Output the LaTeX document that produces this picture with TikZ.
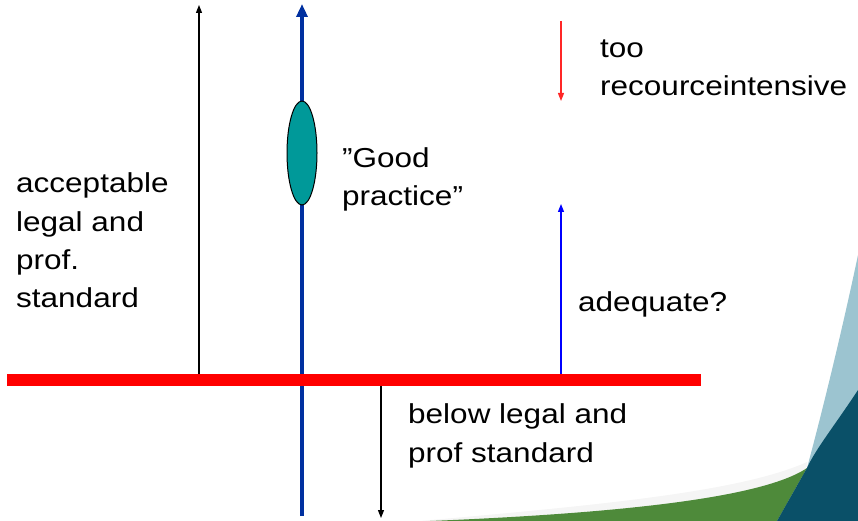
\documentclass[tikz,border=0pt]{standalone}
\usepackage{fontspec}
\setmainfont{Liberation Sans}[FakeStretch=1.15]
\usetikzlibrary{arrows.meta,shapes.geometric}
\definecolor{barRed}{RGB}{255,0,0}
\definecolor{axisBlue}{RGB}{0,48,160}
\definecolor{goodTeal}{RGB}{0,153,153}
\definecolor{swooshGreen}{RGB}{78,138,58}
\definecolor{swooshLight}{RGB}{156,196,208}
\definecolor{swooshDark}{RGB}{10,80,104}
\tikzset{
    textBlock/.style={
        anchor=base west,
        align=left,
        inner sep=0pt,
        font=\fontsize{27.5}{38.5}\selectfont
    },
    thinArrow/.style={
        -{Triangle[width=6bp,length=8bp]},
        line width=1.3bp
    },
    axisArrow/.style={
        -{Triangle[width=11bp,length=13bp]},
        line width=4bp,
        draw=axisBlue
    },
    goodEllipse/.style={
        ellipse,
        draw=black,
        fill=goodTeal,
        line width=1bp,
        minimum width=30bp,
        minimum height=104bp,
        inner sep=0pt
    },
}

\begin{document}
\begin{tikzpicture}[x=1bp, y=-1bp]
    \useasboundingbox (0,0) rectangle (858,521);

    % Decorative swoosh, bottom right
    \fill[gray!8] (420,521) .. controls (600,505) and (740,492) .. (807,462) -- (807,521) -- cycle;
    \fill[swooshLight] (858,255) .. controls (840,340) and (820,420) .. (807,468)
        -- (777,521) -- (858,521) -- cycle;
    \fill[swooshGreen] (430,521) .. controls (600,514) and (760,500) .. (807,468)
        -- (777,521) -- cycle;
    \fill[swooshDark] (858,390) .. controls (835,425) and (815,450) .. (807,468)
        -- (777,521) -- (858,521) -- cycle;

    % Anchor points of the arrows
    \coordinate (accBot) at (199,380);
    \coordinate (accTop) at (199,5);
    \coordinate (axisBot) at (302,516);
    \coordinate (axisTop) at (302,4);
    \coordinate (tooTop) at (561,21);
    \coordinate (tooBot) at (561,101);
    \coordinate (adeqBot) at (561,374);
    \coordinate (adeqTop) at (561,204);
    \coordinate (belowTop) at (381,386);
    \coordinate (belowBot) at (381,518);
    \coordinate (barLeft) at (7,380);
    \coordinate (barRight) at (701,380);

    % Arrows
    \draw[thinArrow, draw=black] (accBot) -- (accTop);
    \draw[thinArrow, draw=black] (belowTop) -- (belowBot);
    \draw[thinArrow, draw=red!85] (tooTop) -- (tooBot);
    \draw[thinArrow, draw=blue] (adeqBot) -- (adeqTop);
    \draw[axisArrow] (axisBot) -- (axisTop);

    % Standard line
    \draw[barRed, line width=12bp] (barLeft) -- (barRight);

    % Good practice marker
    \node[goodEllipse] (good) at (302,153) {};

    % Labels (placed at the baseline of their last line)
    \node[textBlock] (accText) at (16,308) {acceptable\\legal and\\prof.\\standard};
    \node[textBlock] (goodText) at (342,206) {”Good\\practice”};
    \node[textBlock] (tooText) at (600,96) {too\\recourceintensive};
    \node[textBlock] (adeqText) at (578,312) {adequate?};
    \node[textBlock] (belowText) at (408,462) {below legal and\\prof standard};

\end{tikzpicture}
\end{document}
